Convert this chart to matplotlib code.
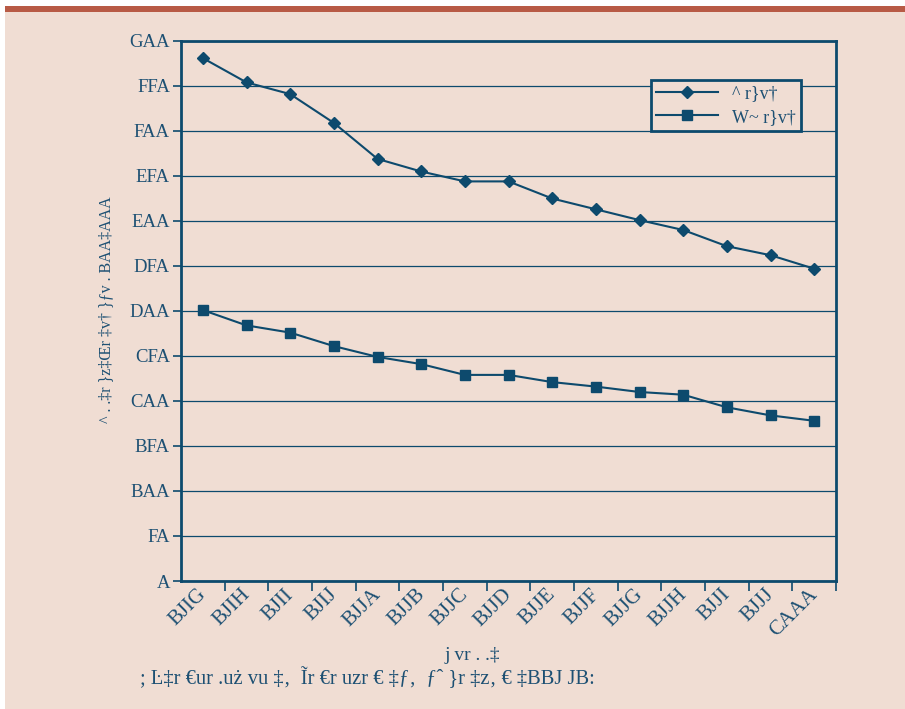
import matplotlib
matplotlib.use("Agg")
import matplotlib.pyplot as plt
from matplotlib.lines import Line2D
from matplotlib.patches import Rectangle
import matplotlib.transforms as mtransforms
import numpy as np

# ---- data (labels kept as they appear in the reference) ----
years = ["BJIG", "BJIH", "BJII", "BJIJ", "BJJA", "BJJB", "BJJC", "BJJD",
         "BJJE", "BJJF", "BJJG", "BJJH", "BJJI", "BJJJ", "CAAA"]
series1 = [581, 554, 541, 509, 469, 455, 444, 444, 425, 413, 401, 390, 372, 362, 347]
series2 = [301, 284, 276, 261, 249, 241, 229, 229, 221, 216, 210, 207, 193, 184, 178]
series1_name = "^ r}v†"
series2_name = "W~ r}v†"
ytick_vals = [0, 50, 100, 150, 200, 250, 300, 350, 400, 450, 500, 550, 600]
ytick_labels = ["A", "FA", "BAA", "BFA", "CAA", "CFA", "DAA", "DFA",
                "EAA", "EFA", "FAA", "FFA", "GAA"]
ylabel = "^ . .‡r }z‡Œr ‡v† }ƒv . BAA‡AAA"
xlabel = "j vr . .‡"
footnote = "; Ŀ‡r €ur .uż vu ‡‚  Ĩr €r uzr € ‡ƒ‚  ƒˆ }r ‡z‚ € ‡BBJ JB:"

BG = "#f0ddd3"
BLUE = "#0d4a6d"
TXT = "#1d5073"
RED = "#b85a45"

plt.rcParams["font.family"] = ["Liberation Serif", "DejaVu Serif"]

fig = plt.figure(figsize=(9.05, 7.09), dpi=100)
fig.patch.set_facecolor("white")
W, H = 905, 709
# peach panel and red top bar
fig.patches.append(Rectangle((5 / W, 0), 1 - 5 / W, 1 - 12 / H, transform=fig.transFigure,
                             facecolor=BG, edgecolor="none", zorder=-10))
fig.patches.append(Rectangle((5 / W, 1 - 12 / H), 1 - 5 / W, 6 / H, transform=fig.transFigure,
                             facecolor=RED, edgecolor="none", zorder=-10))

ax = fig.add_axes([181 / W, 1 - 581 / H, (836 - 181) / W, (581 - 41) / H])
ax.set_zorder(5)
ax.set_facecolor(BG)

x = np.arange(len(years))
ax.plot(x, series1, color=BLUE, lw=1.5, marker="D", ms=6.5, mfc=BLUE, mec=BLUE, zorder=3)
ax.plot(x, series2, color=BLUE, lw=1.5, marker="s", ms=6.5, mfc=BLUE, mec=BLUE, zorder=3)

ax.set_xlim(-0.5, len(years) - 0.5)
ax.set_ylim(0, 600)

# y axis
ax.set_yticks(ytick_vals)
ax.set_yticklabels(ytick_labels, fontsize=13.5, color=TXT)
ax.yaxis.grid(True, color=BLUE, lw=0.9)
ax.set_axisbelow(True)
ax.tick_params(axis="y", length=6, width=1.2, color=BLUE, pad=2, direction="out")

# x axis: tick marks at boundaries, labels at centres
ax.set_xticks(np.arange(0.5, len(years), 1.0))
ax.set_xticklabels([])
ax.tick_params(axis="x", which="major", length=7, width=1.2, color=BLUE, direction="out")
ax.set_xticks(x, minor=True)
ax.set_xticklabels(years, minor=True, rotation=45, ha="right", va="top",
                   rotation_mode="anchor", fontsize=15, color=TXT)
ax.tick_params(axis="x", which="minor", length=0, pad=3)
shift = mtransforms.ScaledTranslation(-6 / 100, 0, fig.dpi_scale_trans)
for lab in ax.get_xticklabels(minor=True):
    lab.set_transform(lab.get_transform() + shift)

for s in ax.spines.values():
    s.set_color(BLUE)
    s.set_linewidth(2)

# axis labels
fig.text(106 / W, 1 - 310 / H, ylabel, rotation=90, ha="center", va="center",
         fontsize=11.5, color=TXT)
fig.text(472 / W, 1 - 655 / H, xlabel, ha="center", va="center", fontsize=14, color=TXT)
fig.text(140 / W, 1 - 678 / H, footnote, ha="left", va="center", fontsize=14.8, color=TXT)

# legend
handles = [Line2D([0], [0], color=BLUE, lw=1.5, marker="D", ms=6.5, mfc=BLUE, mec=BLUE),
           Line2D([0], [0], color=BLUE, lw=1.5, marker="s", ms=6.5, mfc=BLUE, mec=BLUE)]
leg = ax.legend(handles, [series1_name, series2_name], loc="upper left",
                bbox_to_anchor=((651 - 181) / 655, (581 - 80) / 540),
                frameon=True, fancybox=False, facecolor=BG, framealpha=1,
                edgecolor=BLUE, fontsize=13, handlelength=3.4, borderpad=0.3,
                labelspacing=0.35, handletextpad=0.8, borderaxespad=0)
leg.get_frame().set_linewidth(2)
for t in leg.get_texts():
    t.set_color(TXT)

fig.savefig("out.png", dpi=100, facecolor=fig.get_facecolor())
